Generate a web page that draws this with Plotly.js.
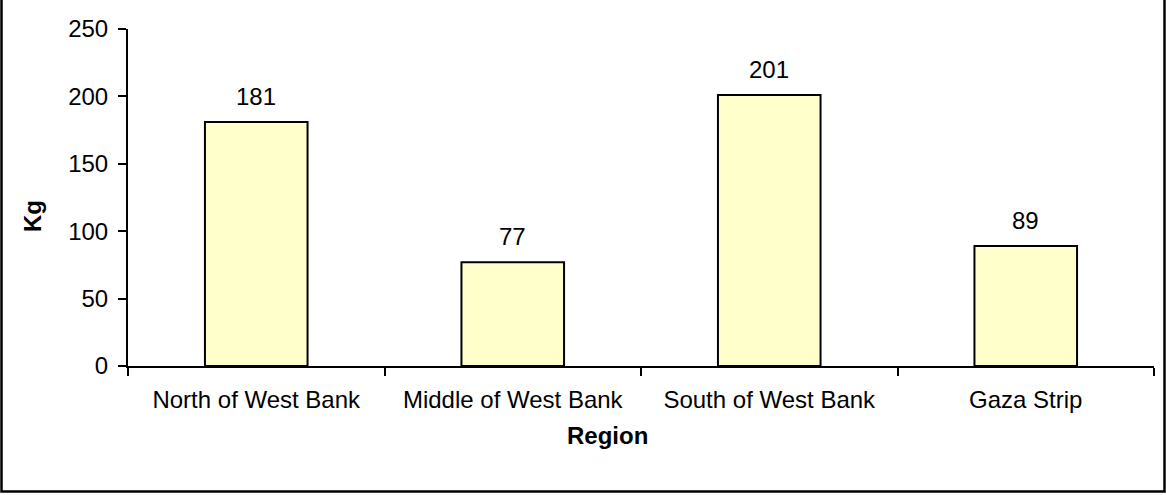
<!DOCTYPE html>
<html>
<head>
<meta charset="utf-8">
<script src="https://cdn.plot.ly/plotly-3.0.1.min.js"></script>
<style>
  html, body { margin: 0; padding: 0; background: #ffffff; }
  #chart { width: 1166px; height: 495px; }
</style>
</head>
<body>
<div id="chart"></div>
<script>
const categories = ["North of West Bank", "Middle of West Bank", "South of West Bank", "Gaza Strip"];
const values = [181, 77, 201, 89];
const yTickValues = [0, 50, 100, 150, 200, 250];
const xTitle = "Region";
const yTitle = "Kg";

const FONT = "Arial, 'Liberation Sans', sans-serif";
const FS = 24;

const W = 1166, H = 495;
const M = { l: 128, r: 12, t: 29, b: 129 };
const pw = W - M.l - M.r, ph = H - M.t - M.b;
const px = x => (x - M.l) / pw;
const py = y => (H - M.b - y) / ph;

const trace = {
  type: "bar",
  x: categories,
  y: values,
  marker: { color: "#FFFFCC", line: { color: "#000000", width: 2 } },
  hoverinfo: "x+y"
};

const valueLabels = categories.map((c, i) => ({
  x: c, y: values[i], xref: "x", yref: "y",
  text: String(values[i]), showarrow: false,
  yanchor: "middle", yshift: 26,
  font: { family: FONT, size: FS, color: "#000" }
}));

const layout = {
  width: W, height: H,
  margin: M,
  paper_bgcolor: "#ffffff",
  plot_bgcolor: "#ffffff",
  showlegend: false,
  bargap: 0.6,
  font: { family: FONT, size: FS, color: "#000" },
  xaxis: {
    type: "category",
    showline: true, linecolor: "#000", linewidth: 2,
    ticks: "outside", tickson: "boundaries", ticklen: 8, tickwidth: 2, tickcolor: "#000",
    showgrid: false, zeroline: false,
    tickfont: { family: FONT, size: FS, color: "#000" },
    ticklabelstandoff: 11
  },
  yaxis: {
    range: [0, 250],
    tickvals: yTickValues,
    ticktext: yTickValues.map(String),
    showline: true, linecolor: "#000", linewidth: 2,
    ticks: "outside", ticklen: 8, tickwidth: 2, tickcolor: "#000",
    showgrid: false, zeroline: false,
    tickfont: { family: FONT, size: FS, color: "#000" },
    ticklabelstandoff: 5
  },
  annotations: valueLabels.concat([
    {
      x: px(33), y: py(216), xref: "paper", yref: "paper",
      text: "<b>" + yTitle + "</b>", textangle: -90, showarrow: false,
      xanchor: "center", yanchor: "middle",
      font: { family: FONT, size: FS, color: "#000" }
    },
    {
      x: px(607.5), y: py(435), xref: "paper", yref: "paper",
      text: "<b>" + xTitle + "</b>", showarrow: false,
      xanchor: "center", yanchor: "middle",
      font: { family: FONT, size: FS, color: "#000" }
    }
  ]),
  shapes: [
    {
      type: "rect", xref: "paper", yref: "paper",
      x0: px(1.5), x1: px(1164.5), y0: py(491.5), y1: py(-3),
      line: { color: "#000", width: 2.5 }, fillcolor: "rgba(0,0,0,0)", layer: "above"
    }
  ]
};

Plotly.newPlot("chart", [trace], layout, { displayModeBar: false, staticPlot: true });
</script>
</body>
</html>
